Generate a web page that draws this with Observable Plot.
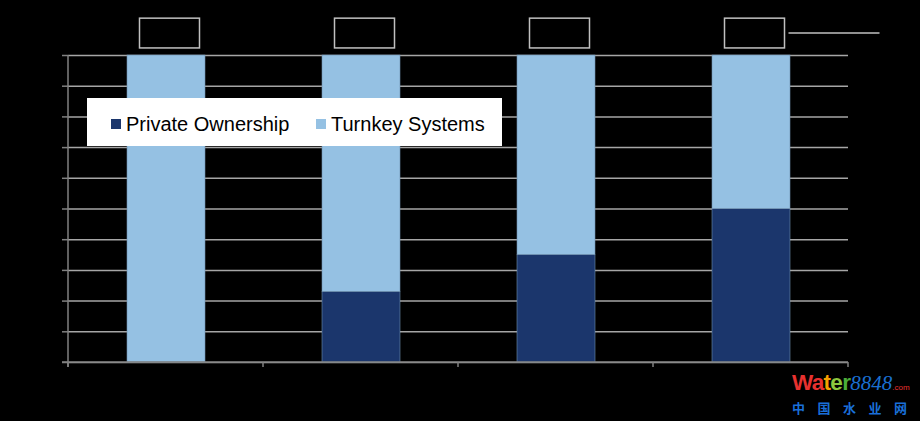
<!DOCTYPE html>
<html>
<head>
<meta charset="utf-8">
<script src="https://cdn.jsdelivr.net/npm/d3@7"></script>
<script src="https://cdn.jsdelivr.net/npm/@observablehq/plot@0.6"></script>
<style>
  html, body { margin: 0; padding: 0; background: #000; }
  #wrap { position: relative; width: 920px; height: 421px; background: #000; overflow: hidden; }
  #legend { position: absolute; left: 86.5px; top: 97.5px; width: 415px; height: 48.5px; background: #fff;
            font-family: "Liberation Sans", Arial, sans-serif; font-size: 20px; color: #000; }
  .li { position: absolute; top: 3px; height: 48.5px; display: flex; align-items: center; white-space: nowrap; }
  .sw { width: 10px; height: 10px; margin-right: 5px; margin-top: -2px; }
  #wm { position: absolute; left: 792px; top: 371px; font-family: "Liberation Sans", Arial, sans-serif; white-space: nowrap; }
  #wm .top { white-space: nowrap; line-height: 24px; }
  #wm .w { font-weight: bold; font-size: 22.5px; letter-spacing: -0.7px; }
  #wm .n { font-family: "Liberation Serif", "DejaVu Serif", serif; font-style: italic; font-size: 21px; color: #1a6fd0; }
  #wm .c { font-size: 8px; color: #e8312f; }
  #wm .cn { font-family: "Noto Sans CJK SC", sans-serif; font-weight: bold; font-size: 13px; color: #1a6fd8;
            letter-spacing: 12.5px; line-height: 16px; margin-top: 0px; white-space: nowrap; }
</style>
</head>
<body>
<div id="wrap"></div>
<script>
// ---- data ----
const categories = ["Period 1", "Period 2", "Period 3", "Period 4"];
const series = ["Private Ownership", "Turnkey Systems"];
const privateOwnership = [0, 23, 35, 50];
const turnkeySystems = [100, 77, 65, 50];
const seriesColors = ["#1b366c", "#95c1e3"];
const yTicks = [0, 10, 20, 30, 40, 50, 60, 70, 80, 90, 100];
// empty label boxes above each bar (value units on the y scale)
const labelBoxRange = [102.3, 112];

const rows = [];
categories.forEach((c, i) => {
  rows.push({cat: c, series: series[0], value: privateOwnership[i]});
  rows.push({cat: c, series: series[1], value: turnkeySystems[i]});
});

const plot = Plot.plot({
  width: 920,
  height: 421,
  marginLeft: 68,
  marginRight: 72,
  marginTop: 55,
  marginBottom: 59,
  style: {background: "#000", overflow: "visible"},
  x: {domain: categories, paddingInner: 0.6, paddingOuter: 0.3, axis: null},
  y: {domain: [0, 100], axis: null},
  color: {domain: series, range: seriesColors},
  marks: [
    Plot.gridY(yTicks, {stroke: "#a6a6a6", strokeOpacity: 1, strokeWidth: 1.5}),
    Plot.axisY(yTicks, {tickSize: 6, tickFormat: () => "", stroke: "#808080", strokeWidth: 1.5}),
    Plot.barY(rows, {x: "cat", y: "value", fill: "series", order: series, stroke: "#6f8fb0", strokeWidth: 0.6}),
    Plot.barY(categories, {x: d => d, y1: labelBoxRange[0], y2: labelBoxRange[1], fill: "none",
      stroke: "#c0c0c0", strokeWidth: 1.5, insetLeft: 12.5, insetRight: 5.5})
  ]
});

document.getElementById("wrap").appendChild(plot);

// axis lines and category-boundary ticks, from the scales
const sx = plot.scale("x"), sy = plot.scale("y");
const svg = d3.select(plot);
const [x0, x1] = sx.range;
const yBase = sy.apply(0), yTop = sy.apply(100);
const g = svg.append("g").attr("stroke", "#808080").attr("stroke-width", 1.5);
g.append("line").attr("x1", x0).attr("x2", x0).attr("y1", yTop).attr("y2", yBase + 5);
g.append("line").attr("x1", x0 - 6).attr("x2", x1).attr("y1", yBase).attr("y2", yBase);
const step = (x1 - x0) / categories.length;
for (let i = 0; i <= categories.length; i++) {
  const bx = x0 + i * step;
  g.append("line").attr("x1", bx).attr("x2", bx).attr("y1", yBase).attr("y2", yBase + 5);
}
// leader line beside the last label box
const lastBoxRight = sx.apply(categories[3]) + sx.bandwidth - 5.5;
const yMid = sy.apply((labelBoxRange[0] + labelBoxRange[1]) / 2);
svg.append("line").attr("x1", lastBoxRight + 4).attr("x2", lastBoxRight + 95)
  .attr("y1", yMid).attr("y2", yMid).attr("stroke", "#c0c0c0").attr("stroke-width", 1.5);

// legend
const legend = document.createElement("div");
legend.id = "legend";
const lx = [24.5, 229.5];
series.forEach((s, i) => {
  const item = document.createElement("div");
  item.className = "li";
  item.style.left = lx[i] + "px";
  item.innerHTML = `<span class="sw" style="background:${seriesColors[i]}"></span><span>${s}</span>`;
  legend.appendChild(item);
});
document.getElementById("wrap").appendChild(legend);

// watermark
const wm = document.createElement("div");
wm.id = "wm";
wm.innerHTML = `<div class="top"><span class="w"><span style="color:#e8312f">Wa</span><span style="color:#f5a100">t</span><span style="color:#8cc63e">e</span><span style="color:#4cae3a">r</span></span><span class="n">8848</span><span class="c">.com</span></div><div class="cn">中国水业网</div>`;
document.getElementById("wrap").appendChild(wm);
</script>
</body>
</html>
